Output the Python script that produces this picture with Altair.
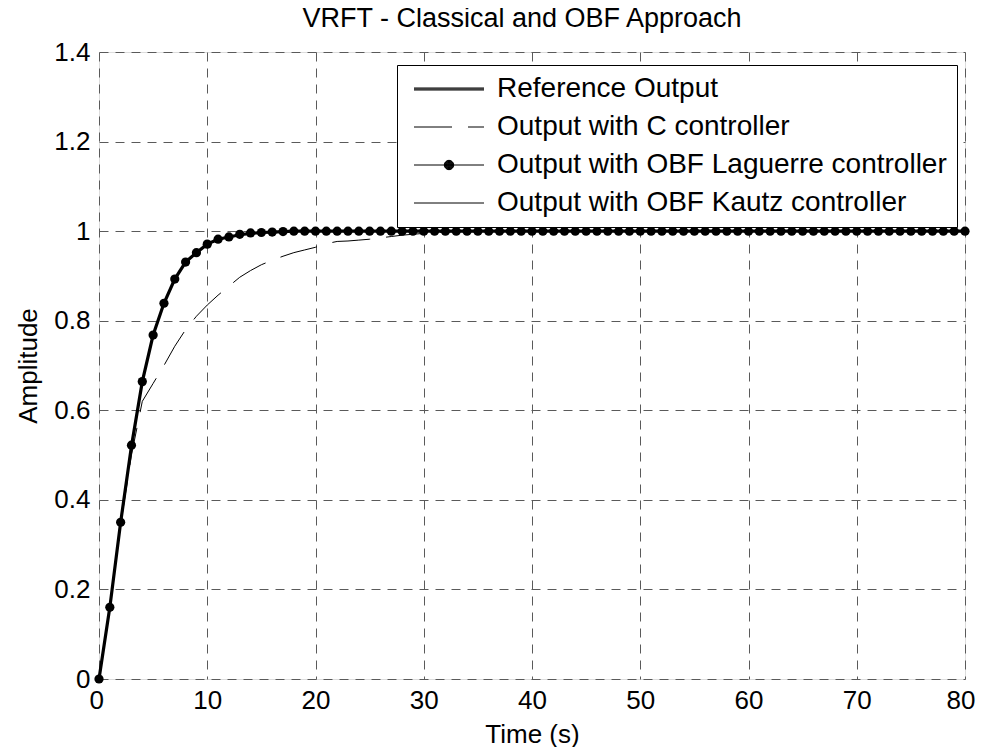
import altair as alt
import pandas as pd

# ---- data ----
time_s = [float(i) for i in range(0, 81)]

reference_output = [
    0.0, 0.16, 0.35, 0.52, 0.664, 0.768, 0.839, 0.893, 0.931, 0.952,
    0.971, 0.982, 0.987, 0.992, 0.995, 0.997, 0.998, 0.999, 1.0, 1.0,
    1.0, 1.0, 1.0, 1.0, 1.0, 1.0, 1.0, 1.0, 1.0, 1.0,
    1.0, 1.0, 1.0, 1.0, 1.0, 1.0, 1.0, 1.0, 1.0, 1.0,
    1.0, 1.0, 1.0, 1.0, 1.0, 1.0, 1.0, 1.0, 1.0, 1.0,
    1.0, 1.0, 1.0, 1.0, 1.0, 1.0, 1.0, 1.0, 1.0, 1.0,
    1.0, 1.0, 1.0, 1.0, 1.0, 1.0, 1.0, 1.0, 1.0, 1.0,
    1.0, 1.0, 1.0, 1.0, 1.0, 1.0, 1.0, 1.0, 1.0, 1.0,
    1.0,
]

c_controller = [
    0.0, 0.16, 0.345, 0.50, 0.62, 0.66, 0.70, 0.743, 0.78, 0.81,
    0.835, 0.857, 0.877, 0.897, 0.912, 0.925, 0.935, 0.944, 0.952, 0.958,
    0.964, 0.972, 0.977, 0.978, 0.980, 0.982, 0.985, 0.988, 0.991, 0.993,
    0.995, 0.997, 0.998, 0.999, 0.999, 0.999, 1.0, 1.0, 1.0, 1.0,
    1.0, 1.0, 1.0, 1.0, 1.0, 1.0, 1.0, 1.0, 1.0, 1.0,
    1.0, 1.0, 1.0, 1.0, 1.0, 1.0, 1.0, 1.0, 1.0, 1.0,
    1.0, 1.0, 1.0, 1.0, 1.0, 1.0, 1.0, 1.0, 1.0, 1.0,
    1.0, 1.0, 1.0, 1.0, 1.0, 1.0, 1.0, 1.0, 1.0, 1.0,
    1.0,
]

laguerre_controller = [
    0.0, 0.16, 0.35, 0.522, 0.664, 0.768, 0.839, 0.893, 0.931, 0.952,
    0.971, 0.982, 0.987, 0.993, 0.996, 0.997, 0.998, 0.999, 1.0, 1.0,
    1.0, 1.0, 1.0, 1.0, 1.0, 1.0, 1.0, 1.0, 1.0, 1.0,
    1.0, 1.0, 1.0, 1.0, 1.0, 1.0, 1.0, 1.0, 1.0, 1.0,
    1.0, 1.0, 1.0, 1.0, 1.0, 1.0, 1.0, 1.0, 1.0, 1.0,
    1.0, 1.0, 1.0, 1.0, 1.0, 1.0, 1.0, 1.0, 1.0, 1.0,
    1.0, 1.0, 1.0, 1.0, 1.0, 1.0, 1.0, 1.0, 1.0, 1.0,
    1.0, 1.0, 1.0, 1.0, 1.0, 1.0, 1.0, 1.0, 1.0, 1.0,
    1.0,
]

kautz_controller = [
    0.0, 0.16, 0.35, 0.52, 0.663, 0.767, 0.839, 0.893, 0.930, 0.952,
    0.971, 0.982, 0.987, 0.992, 0.995, 0.997, 0.998, 0.999, 1.0, 1.0,
    1.0, 1.0, 1.0, 1.0, 1.0, 1.0, 1.0, 1.0, 1.0, 1.0,
    1.0, 1.0, 1.0, 1.0, 1.0, 1.0, 1.0, 1.0, 1.0, 1.0,
    1.0, 1.0, 1.0, 1.0, 1.0, 1.0, 1.0, 1.0, 1.0, 1.0,
    1.0, 1.0, 1.0, 1.0, 1.0, 1.0, 1.0, 1.0, 1.0, 1.0,
    1.0, 1.0, 1.0, 1.0, 1.0, 1.0, 1.0, 1.0, 1.0, 1.0,
    1.0, 1.0, 1.0, 1.0, 1.0, 1.0, 1.0, 1.0, 1.0, 1.0,
    1.0,
]

series_names = [
    "Reference Output",
    "Output with C controller",
    "Output with OBF Laguerre controller",
    "Output with OBF Kautz controller",
]

x_ticks = [0, 10, 20, 30, 40, 50, 60, 70, 80]
y_ticks = [0, 0.2, 0.4, 0.6, 0.8, 1, 1.2, 1.4]

# ---- long table ----
rows = []
for name, vals in zip(series_names,
                      [reference_output, c_controller, laguerre_controller, kautz_controller]):
    for tt, v in zip(time_s, vals):
        rows.append({"t": tt, "y": v, "series": name})
df = pd.DataFrame(rows)

FONT = "Liberation Sans"
GRID = "#5a5a5a"

x_enc = alt.X(
    "t:Q",
    scale=alt.Scale(domain=[0, 80], nice=False, zero=False),
    axis=alt.Axis(
        values=x_ticks, grid=True, gridDash=[9, 7], gridColor=GRID, gridWidth=1,
        gridOpacity=1, ticks=False, domain=False, labelFont=FONT, labelFontSize=26,
        labelColor="black", labelPadding=8, labelFlush=True, labelFlushOffset=10,
        labelOverlap=False,
        title="Time (s)", titleFont=FONT, titleFontSize=26, titleFontWeight="normal",
        titleColor="black", titlePadding=8,
    ),
)
y_enc = alt.Y(
    "y:Q",
    scale=alt.Scale(domain=[0, 1.4], nice=False, zero=False),
    axis=alt.Axis(
        values=y_ticks, format="~g", grid=True, gridDash=[9, 7], gridColor=GRID,
        gridWidth=1, gridOpacity=1, ticks=False, domain=False, labelFont=FONT,
        labelFontSize=26, labelColor="black", labelPadding=9, labelFlush=False,
        labelOverlap=False, title="Amplitude", titleFont=FONT, titleFontSize=26,
        titleFontWeight="normal", titleColor="black", titlePadding=12,
    ),
)

base = alt.Chart(df)

ref_line = base.mark_line(color="black", strokeWidth=3.2).encode(
    x=x_enc, y=y_enc
).transform_filter(alt.datum.series == series_names[0])

c_line = base.mark_line(color="black", strokeWidth=1, strokeDash=[38, 16]).encode(
    x=x_enc, y=y_enc
).transform_filter(alt.datum.series == series_names[1])

lag_line = base.mark_line(color="black", strokeWidth=1).encode(
    x=x_enc, y=y_enc
).transform_filter(alt.datum.series == series_names[2])

lag_pts = base.mark_point(color="black", filled=True, size=85, opacity=1).encode(
    x=x_enc, y=y_enc
).transform_filter(alt.datum.series == series_names[2])

kautz_line = base.mark_line(color="black", strokeWidth=1).encode(
    x=x_enc, y=y_enc
).transform_filter(alt.datum.series == series_names[3])

# legend symbols: custom paths in units of sqrt(size)/2 = 7 px
U = 7.0
def px(v):
    return round(v / U, 4)

half = 35.0  # half length of a legend line sample, px
L0, L1 = px(-half), px(half)
sym_ref = "".join(f"M{L0},{px(d)}L{L1},{px(d)}" for d in (-1.0, 0.0, 1.0))
sym_c = f"M{L0},0L{px(-half + 38)},0M{px(-half + 54)},0L{L1},0"
rings = "".join(
    f"M{px(r)},0A{px(r)},{px(r)},0,1,1,{px(-r)},0A{px(r)},{px(r)},0,1,1,{px(r)},0"
    for r in (4.7, 4.3, 3.9, 3.5, 3.1, 2.7, 2.3, 1.9, 1.5, 1.1, 0.7, 0.3)
)
sym_lag = f"M{L0},0L{L1},0" + rings
sym_kautz = f"M{L0},0L{L1},0"

legend_layer = base.mark_point(color="black", filled=False, strokeWidth=1, opacity=1).encode(
    x=x_enc,
    y=y_enc,
    size=alt.value(196),
    shape=alt.Shape(
        "series:N",
        scale=alt.Scale(domain=series_names, range=[sym_ref, sym_c, sym_lag, sym_kautz]),
        legend=alt.Legend(
            title=None, orient="none", legendX=298, legendY=13,
            labelFont=FONT, labelFontSize=28, labelColor="black", labelLimit=2000,
            labelOffset=34, symbolOffset=28, symbolSize=196, symbolStrokeColor="black",
            symbolStrokeWidth=1, symbolFillColor="transparent", padding=10,
            rowPadding=10, strokeColor="black", fillColor="white",
            cornerRadius=0, symbolOpacity=1,
        ),
    ),
).transform_filter("false")

chart = alt.layer(
    ref_line, c_line, lag_line, lag_pts, kautz_line, legend_layer
).properties(
    width=866,
    height=627,
    autosize=alt.AutoSizeParams(type="none"),
    padding={"left": 91, "top": 44, "right": 12, "bottom": 68},
    title=alt.TitleParams(
        "VRFT - Classical and OBF Approach", font=FONT, fontSize=27,
        fontWeight="normal", color="black", anchor="middle", baseline="alphabetic",
        offset=-15, dx=-10,
    ),
).configure_view(
    stroke="black", strokeWidth=1
).configure(background="white")

chart.save("out.html", embed_options={"renderer": "svg", "actions": False})
